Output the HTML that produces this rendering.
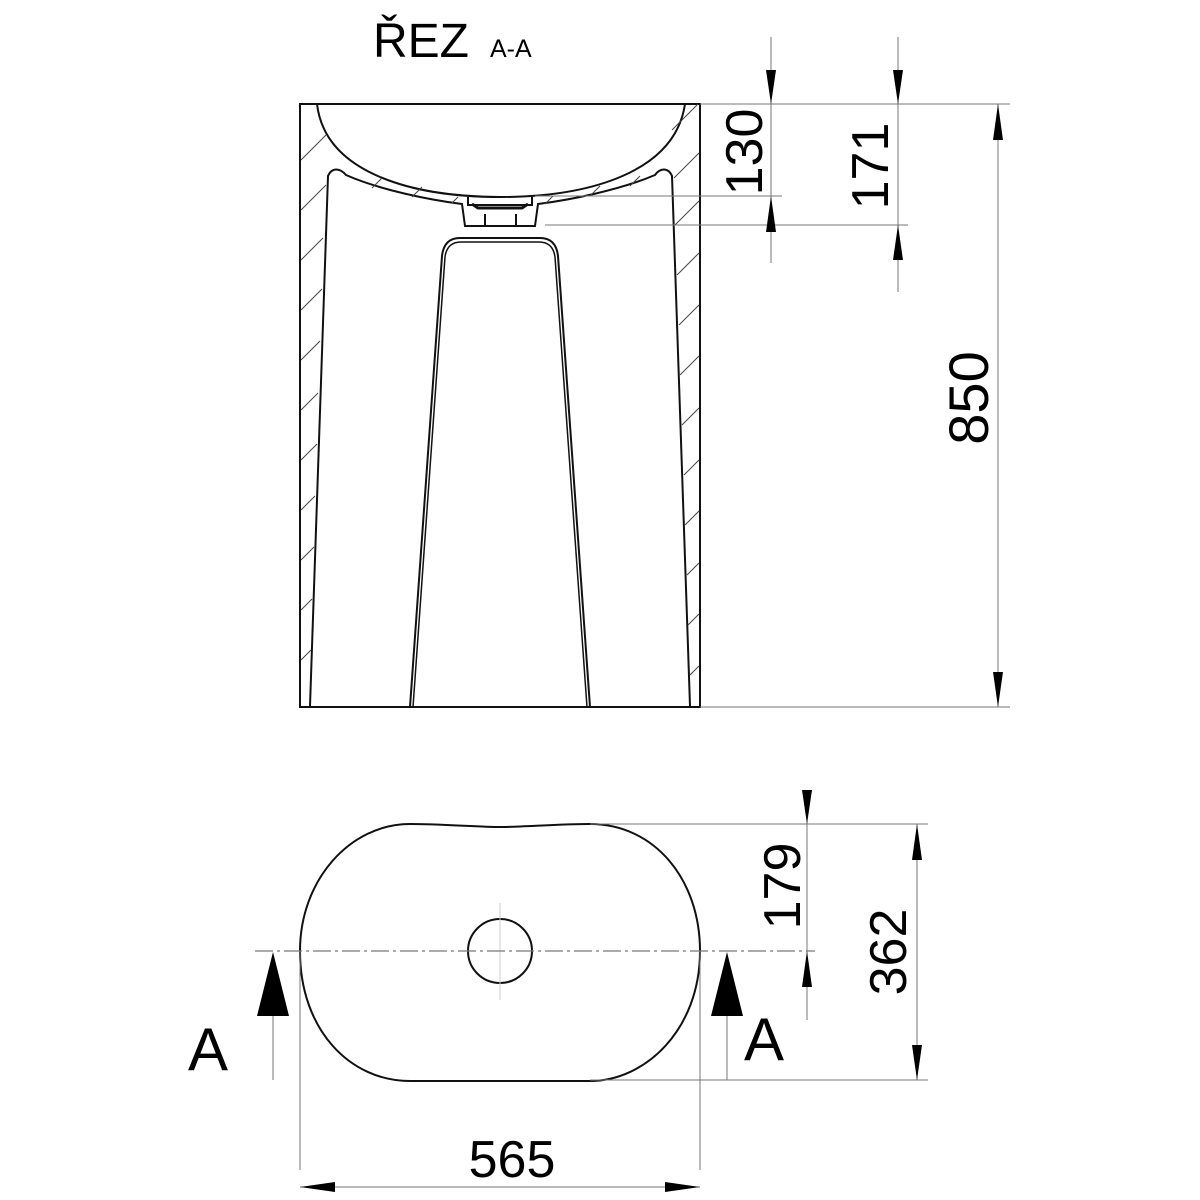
<!DOCTYPE html>
<html><head><meta charset="utf-8"><style>html,body{margin:0;padding:0;background:#fff}svg{display:block}</style></head>
<body>
<svg width="1200" height="1200" viewBox="0 0 1200 1200" xmlns="http://www.w3.org/2000/svg" font-family="Liberation Sans, sans-serif">
<rect width="1200" height="1200" fill="#fff"/>
<text x="373" y="57" font-size="48" fill="#000">ŘEZ</text>
<text x="490" y="57" font-size="25" fill="#000">A-A</text>

<g fill="none" stroke="#111" stroke-width="2">
  <path d="M300,707 L300,104 L700,104 L700,707 Z"/>
  <path d="M317,104 C325,172 410,197 500,197 C590,197 675,172 685,104"/>
  <path d="M310,706 L328,176 C332,167 340,168 346,175 C380,190 430,200 462,204 L465,226 L535,226 L538,204 C570,200 620,190 655,175 C660,168 668,167 672,176 L690,706"/>
  <path d="M468,197 L468,205 L532,205 L532,197"/>
  <path d="M472,204 L478,208 L522,208 L528,204" stroke-width="3"/>
  <line x1="485" y1="214" x2="485" y2="226"/>
  <line x1="516" y1="214" x2="516" y2="226"/>
  <path d="M410,707 L442,256 Q444,238 460,238 L540,238 Q556,238 558,256 L590,707"/>
  <path d="M413,707 L445,257 Q447,242 461,242 L539,242 Q553,242 555,257 L587,707" stroke-width="1.5"/>
</g>
<g stroke="#444" stroke-width="1">
  <line x1="301" y1="160" x2="326" y2="135"/>
  <line x1="301" y1="210" x2="326" y2="185"/>
  <line x1="301" y1="260" x2="323" y2="238"/>
  <line x1="301" y1="310" x2="322" y2="289"/>
  <line x1="301" y1="360" x2="320" y2="341"/>
  <line x1="301" y1="410" x2="318" y2="393"/>
  <line x1="301" y1="460" x2="317" y2="444"/>
  <line x1="301" y1="510" x2="315" y2="496"/>
  <line x1="301" y1="560" x2="314" y2="547"/>
  <line x1="301" y1="610" x2="312" y2="599"/>
  <line x1="301" y1="660" x2="311" y2="650"/>
  <line x1="672" y1="130" x2="698" y2="104"/>
  <line x1="674" y1="178" x2="699" y2="153"/>
  <line x1="675" y1="225" x2="699" y2="201"/>
  <line x1="677" y1="275" x2="699" y2="253"/>
  <line x1="679" y1="325" x2="699" y2="305"/>
  <line x1="680" y1="375" x2="699" y2="356"/>
  <line x1="682" y1="425" x2="699" y2="408"/>
  <line x1="684" y1="475" x2="699" y2="460"/>
  <line x1="685" y1="525" x2="699" y2="511"/>
  <line x1="687" y1="575" x2="699" y2="563"/>
  <line x1="688" y1="625" x2="699" y2="614"/>
  <line x1="690" y1="675" x2="699" y2="666"/>
  <line x1="372" y1="188" x2="382" y2="178"/>
  <line x1="412" y1="197" x2="422" y2="187"/>
  <line x1="452" y1="203" x2="458" y2="197"/>
  <line x1="545" y1="204" x2="553" y2="196"/>
  <line x1="590" y1="196" x2="600" y2="186"/>
  <line x1="630" y1="186" x2="640" y2="176"/>
</g>

<g stroke="#777" stroke-width="1">
  <line x1="700" y1="104" x2="1010" y2="104"/>
  <line x1="535" y1="196" x2="782" y2="196"/>
  <line x1="545" y1="225" x2="908" y2="225"/>
  <line x1="700" y1="707" x2="1010" y2="707"/>
  <line x1="771" y1="37" x2="771" y2="263"/>
  <line x1="898" y1="37" x2="898" y2="292"/>
  <line x1="998" y1="104" x2="998" y2="707"/>
</g>
<g fill="#000">
  <polygon points="766,70 776,70 771,104"/>
  <polygon points="766,232 776,232 771,196"/>
  <polygon points="893,70 903,70 898,104"/>
  <polygon points="893,260 903,260 898,225"/>
  <polygon points="993,140 1003,140 998,104"/>
  <polygon points="993,672 1003,672 998,707"/>
</g>
<text transform="translate(762,152) rotate(-90)" font-size="52" text-anchor="middle">130</text>
<text transform="translate(888,166) rotate(-90)" font-size="52" text-anchor="middle">171</text>
<text transform="translate(988,398) rotate(-90)" font-size="56" text-anchor="middle">850</text>

<path d="M410,824 C440,824 480,827 500,827 C520,827 560,824 590,824 C655,824 700,880 700,951 C700,1030 645,1081 590,1081 C560,1081 520,1081 500,1081 C480,1081 440,1081 410,1081 C350,1081 300,1030 300,951 C300,880 350,824 410,824 Z" fill="none" stroke="#111" stroke-width="2"/>
<circle cx="500" cy="951" r="32" fill="none" stroke="#111" stroke-width="2"/>
<line x1="500" y1="903" x2="500" y2="1000" stroke="#ccc" stroke-width="1"/>
<line x1="255" y1="951" x2="815" y2="951" stroke="#777" stroke-width="1.2" stroke-dasharray="18,4,3,4"/>
<g stroke="#777" stroke-width="1">
  <line x1="590" y1="824" x2="928" y2="824"/>
  <line x1="590" y1="1080" x2="928" y2="1080"/>
  <line x1="300" y1="951" x2="300" y2="1170"/>
  <line x1="700" y1="951" x2="700" y2="1170"/>
  <line x1="807" y1="790" x2="807" y2="1020"/>
  <line x1="917" y1="824" x2="917" y2="1080"/>
  <line x1="300" y1="1187" x2="700" y2="1187"/>
  <line x1="273" y1="1010" x2="273" y2="1080"/>
  <line x1="727" y1="1010" x2="727" y2="1080"/>
</g>
<g fill="#000">
  <polygon points="802,790 812,790 807,824"/>
  <polygon points="802,987 812,987 807,951"/>
  <polygon points="912,860 922,860 917,824"/>
  <polygon points="912,1045 922,1045 917,1080"/>
  <polygon points="335,1182 335,1192 300,1187"/>
  <polygon points="665,1182 665,1192 700,1187"/>
  <polygon points="273,952 257,1016 289,1016"/>
  <polygon points="727,952 711,1016 743,1016"/>
</g>
<text transform="translate(800,886) rotate(-90)" font-size="52" text-anchor="middle">179</text>
<text transform="translate(906,952) rotate(-90)" font-size="52" text-anchor="middle">362</text>
<text x="512" y="1177" font-size="52" text-anchor="middle">565</text>
<text x="188" y="1070" font-size="60">A</text>
<text x="744" y="1060" font-size="60">A</text>
</svg>
</body></html>
